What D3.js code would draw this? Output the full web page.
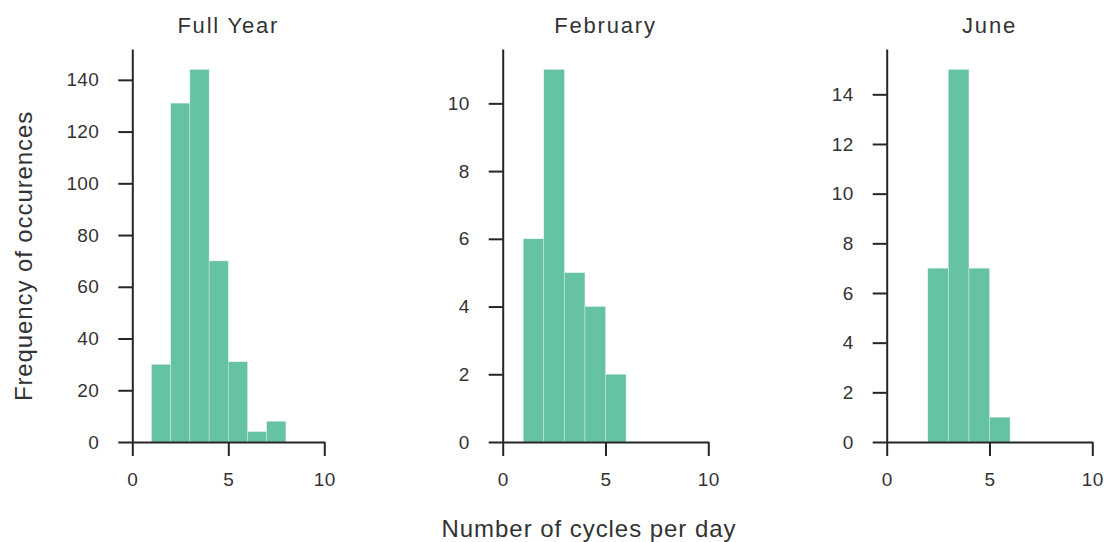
<!DOCTYPE html>
<html>
<head>
<meta charset="utf-8">
<script src="https://cdn.jsdelivr.net/npm/d3@7"></script>
<style>
  body { margin: 0; background: #fff; }
  svg text { font-family: "Liberation Sans", Arial, sans-serif; fill: #333; }
  .axis path, .axis line { stroke: #262626; stroke-width: 2; }
  .axis text { font-size: 19px; fill: #333; letter-spacing: 0.4px; }
</style>
</head>
<body>
<div id="chart"></div>
<script>
// Titres des panneaux
const panelTitles = ["Full Year", "February", "June"];

// Histogrammes : bords des classes et effectifs
const fullYearEdges = [1, 2, 3, 4, 5, 6, 7, 8];
const fullYearCounts = [30, 131, 144, 70, 31, 4, 8];
const februaryEdges = [1, 2, 3, 4, 5, 6];
const februaryCounts = [6, 11, 5, 4, 2];
const juneEdges = [2, 3, 4, 5, 6];
const juneCounts = [7, 15, 7, 1];

// Graduations
const xTicks = [0, 5, 10];
const fullYearTicks = [0, 20, 40, 60, 80, 100, 120, 140];
const februaryTicks = [0, 2, 4, 6, 8, 10];
const juneTicks = [0, 2, 4, 6, 8, 10, 12, 14];

const xLabel = "Number of cycles per day";
const yLabel = "Frequency of occurences";

const width = 1104, height = 542;
const plotTop = 49, plotBottom = 442;

const panels = [
    { title: panelTitles[0], edges: fullYearEdges, counts: fullYearCounts, ticks: fullYearTicks, left: 132.3, right: 324.3 },
    { title: panelTitles[1], edges: februaryEdges, counts: februaryCounts, ticks: februaryTicks, left: 502.7, right: 708.3 },
    { title: panelTitles[2], edges: juneEdges, counts: juneCounts, ticks: juneTicks, left: 886.7, right: 1092.3 }
];

const svg = d3.select("#chart")
    .append("svg")
    .attr("width", width)
    .attr("height", height);

panels.forEach(p => {
    const x = d3.scaleLinear().domain([0, 10]).range([p.left, p.right]);
    const y = d3.scaleLinear().domain([0, d3.max(p.counts) * 1.055]).range([plotBottom, plotTop]);

    const bins = p.counts.map((c, i) => ({ x0: p.edges[i], x1: p.edges[i + 1], count: c }));

    // Barres
    svg.append("g")
        .selectAll("rect")
        .data(bins)
        .enter()
        .append("rect")
        .attr("x", d => x(d.x0))
        .attr("width", d => x(d.x1) - x(d.x0))
        .attr("y", d => y(d.count))
        .attr("height", d => y(0) - y(d.count))
        .attr("fill", "#66c2a5")
        .attr("stroke", "#dff1ea")
        .attr("stroke-width", 0.4);

    // Axes
    svg.append("g")
        .attr("class", "axis")
        .attr("transform", "translate(0," + plotBottom + ")")
        .call(d3.axisBottom(x).tickValues(xTicks).tickSize(14).tickSizeOuter(0).tickPadding(17));

    svg.append("g")
        .attr("class", "axis")
        .attr("transform", "translate(" + x(0) + ",0)")
        .call(d3.axisLeft(y).tickValues(p.ticks).tickSize(14).tickSizeOuter(0).tickPadding(19));

    // Titre
    svg.append("text")
        .attr("x", (p.left + p.right) / 2)
        .attr("y", 33)
        .attr("text-anchor", "middle")
        .style("font-size", "22px")
        .style("letter-spacing", "1.8px")
        .text(p.title);
});

svg.append("text")
    .attr("x", 589)
    .attr("y", 537)
    .attr("text-anchor", "middle")
    .style("font-size", "24px")
    .style("letter-spacing", "0.95px")
    .text(xLabel);

svg.append("text")
    .attr("transform", "translate(32,256) rotate(-90)")
    .attr("text-anchor", "middle")
    .style("font-size", "24px")
    .style("letter-spacing", "0.9px")
    .text(yLabel);
</script>
</body>
</html>
